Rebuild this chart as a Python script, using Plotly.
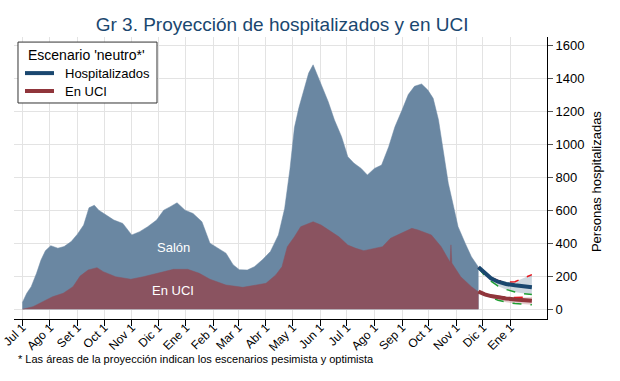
import plotly.graph_objects as go

# ---------------- data ----------------
obs_dates = [
    "2020-07-01", "2020-07-06", "2020-07-11", "2020-07-17", "2020-07-22", "2020-07-27",
    "2020-08-02", "2020-08-10", "2020-08-17", "2020-08-25", "2020-09-01", "2020-09-08",
    "2020-09-14", "2020-09-20", "2020-09-25", "2020-10-03", "2020-10-12", "2020-10-22",
    "2020-11-01", "2020-11-10", "2020-11-19", "2020-11-29", "2020-12-07", "2020-12-14",
    "2020-12-22", "2020-12-31", "2021-01-09", "2021-01-19", "2021-01-28", "2021-02-06",
    "2021-02-15", "2021-02-23", "2021-03-02", "2021-03-11", "2021-03-19", "2021-03-28",
    "2021-04-06", "2021-04-15", "2021-04-22", "2021-04-28", "2021-05-03", "2021-05-08",
    "2021-05-14", "2021-05-19", "2021-05-24", "2021-05-30", "2021-06-04", "2021-06-10",
    "2021-06-17", "2021-06-25", "2021-07-02", "2021-07-09", "2021-07-17", "2021-07-24",
    "2021-08-01", "2021-08-09", "2021-08-17", "2021-08-24", "2021-09-01", "2021-09-08",
    "2021-09-15", "2021-09-23", "2021-09-30", "2021-10-06", "2021-10-12", "2021-10-17",
    "2021-10-23", "2021-10-29", "2021-11-03", "2021-11-11", "2021-11-18", "2021-11-26",
]
hosp_total = [
    40, 97, 137, 218, 298, 355,
    385, 370, 380, 410, 455, 510,
    615, 630, 600, 570, 540, 520,
    450, 470, 500, 540, 600, 620,
    645, 600, 580, 530, 400, 370,
    340, 270, 240, 238, 258, 300,
    350, 450, 610, 850, 1100, 1220,
    1330, 1430, 1480, 1400, 1330, 1257,
    1146, 1045, 924, 884, 853, 813,
    853, 873, 984, 1105, 1206, 1300,
    1350, 1364, 1327, 1277, 1146, 964,
    763, 621, 500, 400, 318, 255,
]

uci_dates = [
    "2020-07-01", "2020-07-13", "2020-07-24", "2020-08-04", "2020-08-16", "2020-08-27",
    "2020-09-04", "2020-09-13", "2020-09-23", "2020-09-30", "2020-10-14", "2020-10-31",
    "2020-11-14", "2020-12-03", "2020-12-18", "2021-01-03", "2021-01-16", "2021-01-28",
    "2021-02-15", "2021-03-06", "2021-03-22", "2021-04-01", "2021-04-12", "2021-04-19",
    "2021-04-25", "2021-05-03", "2021-05-10", "2021-05-24", "2021-06-02", "2021-06-13",
    "2021-06-22", "2021-07-02", "2021-07-11", "2021-07-20", "2021-08-02", "2021-08-10",
    "2021-08-19", "2021-09-01", "2021-09-12", "2021-09-19", "2021-09-24", "2021-10-04",
    "2021-10-15", "2021-10-25", "2021-10-26", "2021-10-27", "2021-11-06", "2021-11-18",
    "2021-11-26",
]
uci_total = [
    0, 16, 46, 76, 97, 137,
    201, 238, 252, 228, 197, 182,
    197, 222, 242, 242, 218, 182,
    147, 133, 147, 157, 208, 258,
    379, 439, 500, 530, 510, 470,
    439, 389, 369, 355, 369, 379,
    430, 460, 490, 480, 470, 450,
    379, 285, 390, 280, 197, 137,
    105,
]

proj_dates = ["2021-11-26", "2021-12-03", "2021-12-10", "2021-12-18",
              "2021-12-27", "2022-01-06", "2022-01-16", "2022-01-25"]
hosp_neutral = [255, 218, 188, 167, 153, 145, 137, 133]
hosp_pesim = [255, 215, 192, 175, 165, 167, 190, 210]
hosp_optim = [250, 205, 170, 140, 120, 105, 95, 90]
uci_neutral = [107, 90, 80, 72, 66, 60, 55, 52]
uci_pesim = [107, 92, 83, 77, 73, 72, 72, 73]
uci_optim = [105, 85, 70, 55, 43, 35, 30, 27]

tick_dates = ["2020-07-01", "2020-08-01", "2020-09-01", "2020-10-01", "2020-11-01",
              "2020-12-01", "2021-01-01", "2021-02-01", "2021-03-01", "2021-04-01",
              "2021-05-01", "2021-06-01", "2021-07-01", "2021-08-01", "2021-09-01",
              "2021-10-01", "2021-11-01", "2021-12-01", "2022-01-01"]
tick_labels = ["Jul 1", "Ago 1", "Set 1", "Oct 1", "Nov 1", "Dic 1", "Ene 1", "Feb 1",
               "Mar 1", "Abr 1", "May 1", "Jun 1", "Jul 1", "Ago 1", "Sep 1", "Oct 1",
               "Nov 1", "Dic 1", "Ene 1"]
y_ticks = [0, 200, 400, 600, 800, 1000, 1200, 1400, 1600]

legend_title = "Escenario 'neutro*'"
legend_names = ["Hospitalizados", "En UCI"]

# ---------------- styles ----------------
FONT = "Liberation Sans, Arial, sans-serif"
NAVY = "#1a476f"
MAROON = "#90353b"
AREA_BLUE = "#6a87a2"
AREA_MAROON = "#8a5360"
RED = "#e8141c"
GREEN = "#1e9e32"

fig = go.Figure()

# observed areas
fig.add_trace(go.Scatter(x=obs_dates, y=hosp_total, mode="lines", fill="tozeroy",
                         line=dict(color=AREA_BLUE, width=0.5), fillcolor=AREA_BLUE,
                         showlegend=False, hoverinfo="skip"))
fig.add_trace(go.Scatter(x=uci_dates, y=uci_total, mode="lines", fill="tozeroy",
                         line=dict(color=AREA_MAROON, width=0.5), fillcolor=AREA_MAROON,
                         showlegend=False, hoverinfo="skip"))

# projection bands
fig.add_trace(go.Scatter(x=proj_dates, y=hosp_optim, mode="lines",
                         line=dict(color=GREEN, width=1.5, dash="dash"),
                         showlegend=False))
fig.add_trace(go.Scatter(x=proj_dates, y=hosp_pesim, mode="lines", fill="tonexty",
                         fillcolor="rgba(26,71,111,0.22)",
                         line=dict(color=RED, width=1.5, dash="dash"),
                         showlegend=False))
fig.add_trace(go.Scatter(x=proj_dates, y=uci_optim, mode="lines",
                         line=dict(color=GREEN, width=1.5, dash="dash"),
                         showlegend=False))
fig.add_trace(go.Scatter(x=proj_dates, y=uci_pesim, mode="lines", fill="tonexty",
                         fillcolor="rgba(144,53,59,0.25)",
                         line=dict(color=RED, width=1.5, dash="dash"),
                         showlegend=False))

# neutral projections
fig.add_trace(go.Scatter(x=proj_dates, y=hosp_neutral, mode="lines", name=legend_names[0],
                         line=dict(color=NAVY, width=4), showlegend=False))
fig.add_trace(go.Scatter(x=proj_dates, y=uci_neutral, mode="lines", name=legend_names[1],
                         line=dict(color=MAROON, width=4), showlegend=False))

fig.update_layout(
    width=620, height=381,
    margin=dict(l=14, r=73, t=37, b=62, autoexpand=False),
    paper_bgcolor="white", plot_bgcolor="white",
    font=dict(family=FONT, color="black", size=12),
    title=dict(text="Gr 3. Proyección de hospitalizados y en UCI",
               x=0.455, xanchor="center", y=0.937, yanchor="middle",
               font=dict(family=FONT, size=19, color="#1a476f")),
    showlegend=False,
)

fig.update_xaxes(
    type="date", range=["2020-06-21 16:00", "2022-02-11"],
    tickvals=tick_dates, ticktext=tick_labels, tickangle=-45,
    tickfont=dict(size=12), automargin=False, ticklabelstandoff=-10,
    showgrid=True, gridcolor="#e3e3e3", gridwidth=1.2,
    showline=True, linecolor="black", linewidth=1,
    ticks="outside", ticklen=6, tickcolor="black", zeroline=False,
)
fig.update_yaxes(
    side="right", range=[-58.7, 1648.4], tickvals=y_ticks,
    tickfont=dict(size=13), automargin=False,
    showgrid=True, gridcolor="#e3e3e3", gridwidth=1.2,
    showline=True, linecolor="black", linewidth=1,
    ticks="outside", ticklen=5, tickcolor="#555555", zeroline=False,
)

# manual legend (paper coordinates)
fig.add_shape(type="rect", xref="paper", yref="paper",
              x0=0.0075, x1=0.2683, y0=0.766, y1=0.982,
              line=dict(color="#333333", width=1), fillcolor="white", layer="above")
fig.add_annotation(x=0.0225, y=0.936, xref="paper", yref="paper", xanchor="left",
                   yanchor="middle", text=legend_title, showarrow=False,
                   font=dict(family=FONT, size=14, color="black"))
for name, color, ly in [(legend_names[0], NAVY, 0.872), (legend_names[1], MAROON, 0.8085)]:
    fig.add_shape(type="line", xref="paper", yref="paper",
                  x0=0.0206, x1=0.075, y0=ly, y1=ly,
                  line=dict(color=color, width=4), layer="above")
    fig.add_annotation(x=0.0919, y=ly, xref="paper", yref="paper", xanchor="left",
                       yanchor="middle", text=name, showarrow=False,
                       font=dict(family=FONT, size=13, color="black"))

# text annotations
fig.add_annotation(x=0.2984, y=0.255, xref="paper", yref="paper",
                   xanchor="center", yanchor="middle",
                   text="Salón", showarrow=False,
                   font=dict(family=FONT, size=13, color="white"))
fig.add_annotation(x=0.2984, y=0.1028, xref="paper", yref="paper",
                   xanchor="center", yanchor="middle",
                   text="En UCI", showarrow=False,
                   font=dict(family=FONT, size=13, color="white"))
fig.add_annotation(x=1.094, y=0.486, xref="paper", yref="paper",
                   xanchor="center", yanchor="middle",
                   text="Personas hospitalizadas", textangle=-90, showarrow=False,
                   font=dict(family=FONT, size=13, color="black"))
fig.add_annotation(x=0.004, y=-0.1418, xref="paper", yref="paper",
                   xanchor="left", yanchor="middle",
                   text="* Las áreas de la proyección indican los escenarios pesimista y optimista",
                   showarrow=False, font=dict(family=FONT, size=11, color="black"))

fig.write_html("out.html", config={"displayModeBar": False},
               post_script="document.body.style.margin='0px';")
